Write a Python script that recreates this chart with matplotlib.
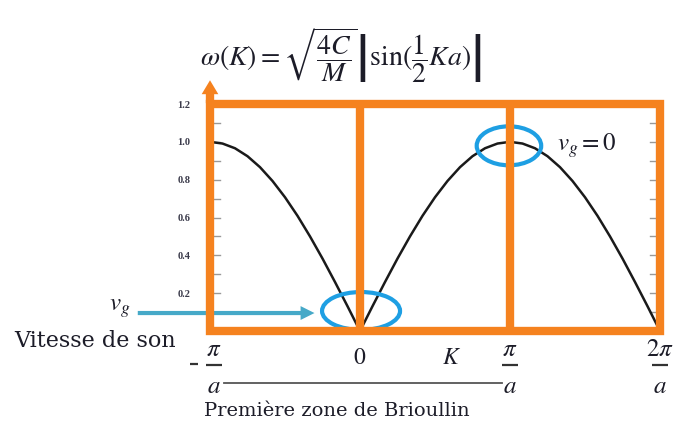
import matplotlib
matplotlib.use("Agg")
import matplotlib.pyplot as plt
from matplotlib.patches import Rectangle, Ellipse, FancyArrowPatch, ArrowStyle

plt.rcParams["mathtext.fontset"] = "stix"

# Wave number in units of pi/a, and the normalised frequency |sin(Ka/2)|
k_values = [-1.0, -0.9167, -0.8333, -0.75, -0.6667, -0.5833, -0.5, -0.4167,
            -0.3333, -0.25, -0.1667, -0.0833, 0.0, 0.0833, 0.1667, 0.25,
            0.3333, 0.4167, 0.5, 0.5833, 0.6667, 0.75, 0.8333, 0.9167, 1.0,
            1.0833, 1.1667, 1.25, 1.3333, 1.4167, 1.5, 1.5833, 1.6667, 1.75,
            1.8333, 1.9167, 2.0]
omega_values = [1.0, 0.991, 0.966, 0.924, 0.866, 0.793, 0.707, 0.609,
                0.5, 0.383, 0.259, 0.131, 0.0, 0.131, 0.259, 0.383,
                0.5, 0.609, 0.707, 0.793, 0.866, 0.924, 0.966, 0.991, 1.0,
                0.991, 0.966, 0.924, 0.866, 0.793, 0.707, 0.609, 0.5, 0.383,
                0.259, 0.131, 0.0]

y_ticks = [0.2, 0.4, 0.6, 0.8, 1.0, 1.2]
y_tick_labels = ["0.2", "0.4", "0.6", "0.8", "1.0", "1.2"]
y_minor = [0.1, 0.2, 0.3, 0.4, 0.5, 0.6, 0.7, 0.8, 0.9, 1.0, 1.1]

# K-axis labels: (position, sign, numerator, denominator)
x_fraction_labels = [(-1, "-", r"$\pi$", r"$a$"),
                     (1, "", r"$\pi$", r"$a$"),
                     (2, "", r"$2\pi$", r"$a$")]
x_zero_label = r"$0$"

ORANGE = "#F5821F"
BLUE = "#1E9FE3"
TEAL = "#46A9C8"
INK = "#1c1c28"
SERIF = "DejaVu Serif"

W, H = 673, 430
fig = plt.figure(figsize=(W / 100, H / 100), dpi=100)
fig.patch.set_facecolor("white")
ax = fig.add_axes([210 / W, (H - 331) / H, 450 / W, 227 / H])
ax.set_xlim(-1, 2)
ax.set_ylim(0, 1.2)
for s in ax.spines.values():
    s.set_visible(False)

# pixel-ish helpers for annotation placement
px_x = 3 / 450      # data units per pixel in x
px_y = 1.2 / 227    # data units per pixel in y

# dispersion curve
ax.plot(k_values, omega_values, color="#1a1a1a", lw=1.8, zorder=3, clip_on=False)

# y ticks: small inward marks on both sides, labels only on the left
ax.set_yticks(y_ticks)
ax.set_yticklabels(y_tick_labels, fontsize=7.5, fontweight="bold", color="#3a3a4a",
                   family="Liberation Serif")
ax.tick_params(axis="y", which="both", direction="in", length=0, pad=14)
for yv in y_minor:
    ax.plot([-1, -1 + 10 * px_x], [yv, yv], color="#999999", lw=1, zorder=2)
    ax.plot([2 - 10 * px_x, 2], [yv, yv], color="#999999", lw=1, zorder=2)
ax.set_xticks([])

# orange frame, zone boundaries and vertical arrow
ax.add_patch(Rectangle((-1, 0), 3, 1.2, fill=False, ec=ORANGE, lw=6,
                       joinstyle="miter", zorder=10, clip_on=False))
for xv in [0, 1]:
    ax.plot([xv, xv], [0, 1.2], color=ORANGE, lw=6, zorder=10,
            solid_capstyle="butt")
ax.add_patch(FancyArrowPatch((-1, 1.19), (-1, 1.34),
                             arrowstyle=ArrowStyle.Simple(head_length=10, head_width=12,
                                                          tail_width=6),
                             mutation_scale=1, color=ORANGE, lw=0, zorder=10,
                             clip_on=False))

# highlighted regions
ax.add_patch(Ellipse((0.007, 0.106), 0.52, 0.2, fill=False, ec=BLUE, lw=3,
                     zorder=4, clip_on=False))
ax.add_patch(Ellipse((0.993, 0.979), 0.43, 0.206, fill=False, ec=BLUE, lw=3,
                     zorder=4, clip_on=False))

# sound velocity arrow
ax.add_patch(FancyArrowPatch((-1.5, 0.095), (-0.285, 0.095),
                             arrowstyle=ArrowStyle.Simple(head_length=10, head_width=10,
                                                          tail_width=3),
                             mutation_scale=1, color=TEAL, lw=0, zorder=5,
                             clip_on=False))

ax.text(-1.6, 0.12, r"$v_g$", fontsize=18, ha="center", va="center",
        color=INK, clip_on=False)
ax.text(-1 - 34 * px_x, -0.055, "Vitesse de son", fontsize=16, family=SERIF,
        ha="right", va="center", color=INK, clip_on=False)
ax.text(1 + 47 * px_x, 0.979, r"$v_g = 0$", fontsize=18, ha="left", va="center",
        color=INK, clip_on=False)

# K-axis labels drawn as stacked fractions
for xv, sign, num, den in x_fraction_labels:
    cx = xv + (4 * px_x if xv == -1 else 0)
    ax.text(cx, -18 * px_y, num, fontsize=18, ha="center", va="center",
            color=INK, clip_on=False)
    ax.plot([cx - 8 * px_x, cx + 8 * px_x], [-34 * px_y, -34 * px_y],
            color="#333333", lw=1.6, clip_on=False, solid_capstyle="butt")
    ax.text(cx, -55 * px_y, den, fontsize=18, ha="center", va="center",
            color=INK, clip_on=False)
    if sign:
        ax.plot([cx - 24 * px_x, cx - 16 * px_x], [-33 * px_y, -33 * px_y],
                color="#333333", lw=1.6, clip_on=False, solid_capstyle="butt")
ax.text(0, -26 * px_y, x_zero_label, fontsize=17, ha="center", va="center",
        color=INK, clip_on=False)
ax.text(0.61, -26 * px_y, r"$K$", fontsize=17, ha="center", va="center",
        color=INK, clip_on=False)

# first Brillouin zone bracket line
ax.plot([-1 + 14 * px_x, 1 - 8 * px_x], [-52 * px_y, -52 * px_y],
        color="#555555", lw=1.3, clip_on=False)
ax.text(-0.153, -80 * px_y, "Première zone de Brioullin", fontsize=14, family=SERIF,
        ha="center", va="center", color=INK, clip_on=False)

# dispersion relation
fig.text(200 / W, (H - 55) / H,
         r"$\omega(K) = \sqrt{\dfrac{4C}{M}}\left|\sin(\dfrac{1}{2}Ka)\right|$",
         fontsize=20, ha="left", va="center", color=INK)

fig.savefig("out.png", dpi=100, facecolor="white")
